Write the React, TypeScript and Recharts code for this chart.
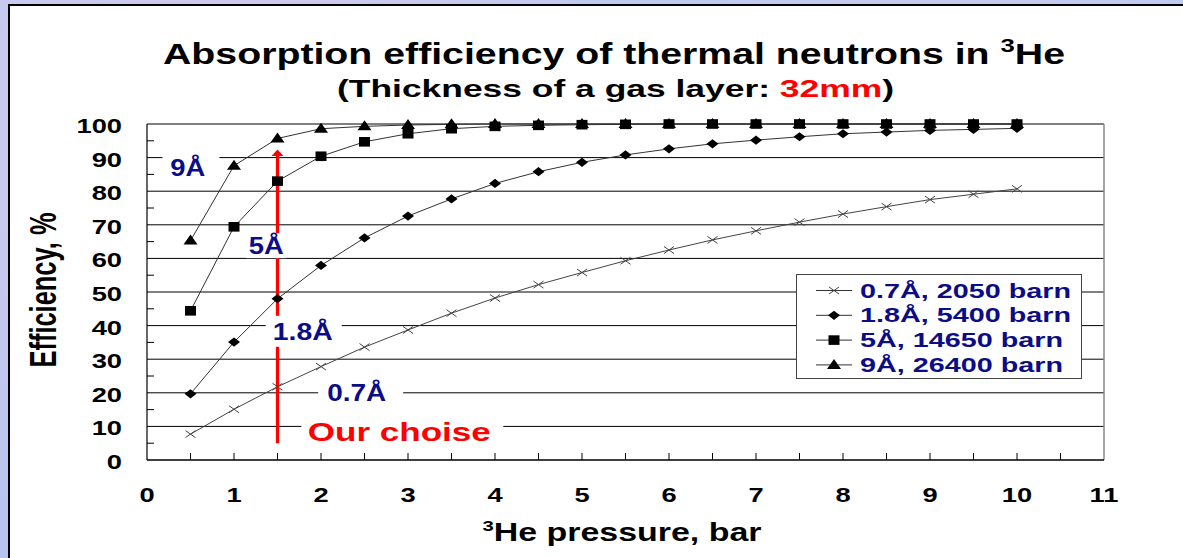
import React from 'react';
import {
  CartesianGrid,
  Legend,
  Line,
  LineChart,
  ReferenceDot,
  ReferenceLine,
  XAxis,
  YAxis,
} from 'recharts';

// pressure, bar
const pressure = [0.5, 1, 1.5, 2, 2.5, 3, 3.5, 4, 4.5, 5, 5.5, 6, 6.5, 7, 7.5, 8, 8.5, 9, 9.5, 10];

// efficiency, %
const eff07 = [7.7, 15.1, 21.8, 27.8, 33.6, 38.7, 43.7, 48.2, 52.2, 55.8, 59.3, 62.5, 65.5, 68.2, 70.8, 73.2, 75.4, 77.5, 79.1, 80.7];
const eff18 = [19.7, 35.1, 48.0, 57.9, 66.1, 72.6, 77.7, 82.3, 85.8, 88.6, 90.8, 92.6, 94.1, 95.2, 96.2, 97.1, 97.6, 98.1, 98.4, 98.7];
const eff5 = [44.4, 69.4, 83.0, 90.4, 94.7, 97.1, 98.6, 99.3, 99.6, 99.8, 99.9, 100, 100, 100, 100, 100, 100, 100, 100, 100];
const eff9 = [65.3, 87.6, 95.7, 98.6, 99.3, 99.7, 99.9, 100, 100, 100, 100, 100, 100, 100, 100, 100, 100, 100, 100, 100];

const seriesNames = ['0.7Å, 2050 barn', '1.8Å, 5400 barn', '5Å, 14650 barn', '9Å, 26400 barn'];

const xTicks = [0, 0.5, 1, 1.5, 2, 2.5, 3, 3.5, 4, 4.5, 5, 5.5, 6, 6.5, 7, 7.5, 8, 8.5, 9, 9.5, 10, 10.5, 11];
const yTicks = [0, 5, 10, 15, 20, 25, 30, 35, 40, 45, 50, 55, 60, 65, 70, 75, 80, 85, 90, 95, 100];
const gridValues = [10, 20, 30, 40, 50, 60, 70, 80, 90, 100];

// "our choice" arrow: pressure and efficiency range
const choice = 1.5;
const arrowFrom = 5;
const arrowTo = 92.4;

// text labels inside the plot
const notes = [
  { text: '9Å', x: 0.47, y: 87.0, color: '#0c0c86' },
  { text: '5Å', x: 1.37, y: 63.8, color: '#0c0c86' },
  { text: '1.8Å', x: 1.79, y: 38.3, color: '#0c0c86' },
  { text: '0.7Å', x: 2.41, y: 20.0, color: '#0c0c86' },
  { text: 'Our choise', x: 2.9, y: 8.3, color: '#ff0000' },
];
// width of text, white box around it (w, h) and box shift in px
const noteLayout = [
  { tw: 35, bw: 57, bh: 26, dx: 3, size: 23 },
  { tw: 35, bw: 40, bh: 25, dx: 0, size: 23 },
  { tw: 60, bw: 76, bh: 31, dx: 1, size: 23 },
  { tw: 59, bw: 85, bh: 20, dx: 4, size: 23 },
  { tw: 183, bw: 202, bh: 26, dx: 3, size: 25 },
];

const data = pressure.map((p, i) => ({
  p,
  e07: eff07[i],
  e18: eff18[i],
  e5: eff5[i],
  e9: eff9[i],
}));

const FONT = '"Liberation Sans", Arial, sans-serif';
const NAVY = '#0c0c86';
const SX = 1.3;

type Kind = 'cross' | 'diamond' | 'square' | 'triangle';

const markerPath = (kind: Kind, cx: number, cy: number) => {
  switch (kind) {
    case 'cross':
      return `M${cx - 5},${cy - 3.5}L${cx + 5},${cy + 3.5}M${cx - 5},${cy + 3.5}L${cx + 5},${cy - 3.5}`;
    case 'diamond':
      return `M${cx - 6},${cy}L${cx},${cy - 4.6}L${cx + 6},${cy}L${cx},${cy + 4.6}Z`;
    case 'square':
      return `M${cx - 5.5},${cy - 4.8}h11v9.6h-11Z`;
    default:
      return `M${cx},${cy - 6}L${cx + 7},${cy + 4}L${cx - 7},${cy + 4}Z`;
  }
};

const Marker = ({ kind, cx, cy }: { kind: Kind; cx: number; cy: number }) =>
  kind === 'cross' ? (
    <path d={markerPath(kind, cx, cy)} stroke="#444" strokeWidth={1} fill="none" />
  ) : (
    <path d={markerPath(kind, cx, cy)} fill="#000" stroke="none" />
  );

const dotOf = (kind: Kind) => (props: any) => {
  const { cx, cy, index } = props;
  if (cx == null || cy == null) return <g key={index} />;
  return (
    <g key={`${kind}-${index}`}>
      <Marker kind={kind} cx={cx} cy={cy} />
    </g>
  );
};

const XTick = (props: any) => {
  const { x, y, payload } = props;
  const v = payload.value;
  const labelled = Number.isInteger(v);
  return (
    <g>
      {v > 0 && v < 11 && <line x1={x} x2={x} y1={y} y2={y - 7} stroke="#000" />}
      {labelled && (
        <text
          transform={`translate(${x},${y + 42}) scale(${SX},1)`}
          textAnchor="middle"
          fontFamily={FONT}
          fontWeight="bold"
          fontSize={21}
          fill="#000"
        >
          {v}
        </text>
      )}
    </g>
  );
};

const YTick = (props: any) => {
  const { x, y, payload } = props;
  const v = payload.value;
  const labelled = v % 10 === 0;
  return (
    <g>
      {!labelled && <line x1={x} x2={x + 7} y1={y} y2={y} stroke="#000" />}
      {labelled && (
        <text
          transform={`translate(${x - 25},${y + 9}) scale(${SX},1)`}
          textAnchor="end"
          fontFamily={FONT}
          fontWeight="bold"
          fontSize={21}
          fill="#000"
        >
          {v}
        </text>
      )}
    </g>
  );
};

const Arrow = (props: any) => {
  const { x1, y1, x2, y2 } = props;
  const top = Math.min(y1, y2);
  const bottom = Math.max(y1, y2);
  return (
    <g>
      <line x1={x1} x2={x2} y1={bottom} y2={top + 5} stroke="#ff0000" strokeWidth={3.3} />
      <path d={`M${x1},${top}L${x1 + 6},${top + 6.5}L${x1 - 6},${top + 6.5}Z`} fill="#ff0000" />
    </g>
  );
};

const noteShape = (i: number) => (props: any) => {
  const { cx, cy } = props;
  const n = notes[i];
  const l = noteLayout[i];
  return (
    <g>
      <rect
        x={cx - l.bw / 2 + l.dx}
        y={cy - l.bh / 2}
        width={l.bw}
        height={l.bh}
        fill="#fff"
      />
      <text
        x={cx}
        y={cy + l.size * 0.36}
        textAnchor="middle"
        textLength={l.tw}
        lengthAdjust="spacingAndGlyphs"
        fontFamily={FONT}
        fontWeight="bold"
        fontSize={l.size}
        fill={n.color}
      >
        {n.text}
      </text>
    </g>
  );
};

const legendKinds: Kind[] = ['cross', 'diamond', 'square', 'triangle'];
const legendTextW = [211, 211, 203, 203];

const LegendBox = () => (
  <div
    style={{
      width: 286,
      height: 105,
      boxSizing: 'border-box',
      border: '1.5px solid #444',
      background: '#fff',
    }}
  >
    <svg width={283} height={102} style={{ display: 'block' }}>
      {seriesNames.map((name, i) => {
        const cy = 15.5 + i * 24.8;
        return (
          <g key={name}>
            <line x1={19} x2={55} y1={cy} y2={cy} stroke="#333" strokeWidth={1} />
            <Marker kind={legendKinds[i]} cx={37} cy={cy} />
            <text
              x={63}
              y={cy + 7}
              textLength={legendTextW[i]}
              lengthAdjust="spacingAndGlyphs"
              fontFamily={FONT}
              fontWeight="bold"
              fontSize={20}
              fill={NAVY}
            >
              {name}
            </text>
          </g>
        );
      })}
    </svg>
  </div>
);

const Titles = () => (
  <svg
    width={1183}
    height={558}
    style={{ position: 'absolute', left: 0, top: 0, pointerEvents: 'none' }}
  >
    <text
      x={614}
      y={64}
      textAnchor="middle"
      textLength={902}
      lengthAdjust="spacingAndGlyphs"
      fontFamily={FONT}
      fontWeight="bold"
      fontSize={29}
      fill="#000"
    >
      Absorption efficiency of thermal neutrons in{' '}
      <tspan fontSize={19} dy={-12}>
        3
      </tspan>
      <tspan dy={12}>He</tspan>
    </text>
    <text
      x={615.5}
      y={97}
      textAnchor="middle"
      textLength={557}
      lengthAdjust="spacingAndGlyphs"
      fontFamily={FONT}
      fontWeight="bold"
      fontSize={24}
      fill="#000"
    >
      (Thickness of a gas layer: <tspan fill="#ff0000">32mm</tspan>)
    </text>
    <text
      x={622}
      y={541}
      textAnchor="middle"
      textLength={279}
      lengthAdjust="spacingAndGlyphs"
      fontFamily={FONT}
      fontWeight="bold"
      fontSize={25}
      fill="#000"
    >
      <tspan fontSize={15} dy={-10}>
        3
      </tspan>
      <tspan dy={10}>He pressure, bar</tspan>
    </text>
    <text
      transform="translate(43,290) scale(1.4,1) rotate(-90)"
      textAnchor="middle"
      dominantBaseline="central"
      textLength={155}
      lengthAdjust="spacingAndGlyphs"
      fontFamily={FONT}
      fontWeight="bold"
      fontSize={26}
      fill="#000"
    >
      Efficiency, %
    </text>
  </svg>
);

const App = () => {
  return (
    <div
      style={{
        position: 'fixed',
        left: 0,
        top: 0,
        width: 1183,
        height: 558,
        overflow: 'hidden',
        background:
          'radial-gradient(circle at 20% 30%, #d8c8ea 0%, transparent 40%), radial-gradient(circle at 80% 70%, #e0cce8 0%, transparent 45%), linear-gradient(180deg, #bfcbf1 0%, #b6c4ee 100%)',
      }}
    >
      <div
        style={{
          position: 'absolute',
          left: 8,
          top: 4,
          width: 1190,
          height: 570,
          background: '#fff',
          borderLeft: '2px solid #000',
          borderTop: '2px solid #000',
          boxSizing: 'border-box',
        }}
      />
      <div style={{ position: 'absolute', left: 0, top: 0 }}>
        <LineChart
          width={1183}
          height={558}
          data={data}
          margin={{ top: 124, right: 79, bottom: 58, left: 0 }}
        >
          <CartesianGrid
            vertical={false}
            horizontalValues={gridValues}
            stroke="#000"
            strokeWidth={1}
          />
          <XAxis
            dataKey="p"
            type="number"
            domain={[0, 11]}
            ticks={xTicks}
            interval={0}
            height={40}
            tickSize={0}
            tickMargin={0}
            tickLine={false}
            tick={<XTick />}
            axisLine={{ stroke: '#000', strokeWidth: 1.5 }}
          />
          <YAxis
            type="number"
            domain={[0, 100]}
            ticks={yTicks}
            interval={0}
            width={147}
            tickSize={0}
            tickMargin={0}
            tickLine={false}
            tick={<YTick />}
            axisLine={{ stroke: '#000', strokeWidth: 1.2 }}
          />
          <ReferenceLine x={11} stroke="#8a8a8a" strokeWidth={1.5} />
          <Line
            dataKey="e9"
            stroke="#333"
            strokeWidth={1}
            dot={dotOf('triangle')}
            isAnimationActive={false}
          />
          <Line
            dataKey="e5"
            stroke="#333"
            strokeWidth={1}
            dot={dotOf('square')}
            isAnimationActive={false}
          />
          <Line
            dataKey="e18"
            stroke="#333"
            strokeWidth={1}
            dot={dotOf('diamond')}
            isAnimationActive={false}
          />
          <Line
            dataKey="e07"
            stroke="#444"
            strokeWidth={1}
            dot={dotOf('cross')}
            isAnimationActive={false}
          />
          <ReferenceLine
            segment={[
              { x: choice, y: arrowFrom },
              { x: choice, y: arrowTo },
            ]}
            shape={Arrow}
          />
          {notes.map((n, i) => (
            <ReferenceDot key={n.text} x={n.x} y={n.y} r={1} shape={noteShape(i)} />
          ))}
          <Legend
            layout="vertical"
            align="center"
            verticalAlign="middle"
            content={<LegendBox />}
            wrapperStyle={{ position: 'absolute', left: 796, top: 274, width: 286, height: 105 }}
          />
        </LineChart>
      </div>
      <Titles />
    </div>
  );
};

export default App;
